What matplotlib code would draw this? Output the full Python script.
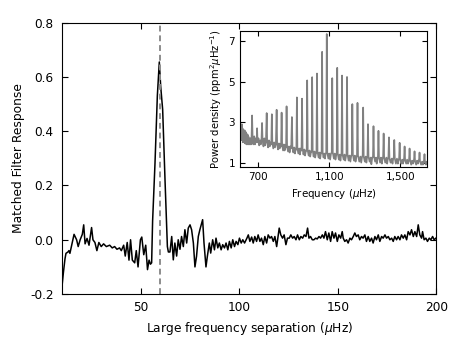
import numpy as np
import matplotlib
matplotlib.use('Agg')
import matplotlib.pyplot as plt
from matplotlib.ticker import FuncFormatter

plt.rcParams['font.family'] = ['DejaVu Sans']
plt.rcParams['mathtext.fontset'] = 'dejavusans'
plt.rcParams['axes.unicode_minus'] = False

# matched filter response vs large frequency separation
dnu = [10.0, 10.7, 11.5, 12.0, 13.0, 13.5, 14.0, 14.9, 16.1, 17.4, 18.2, 19.2, 20.3, 21.0,
       21.7, 22.7, 23.7, 25.0, 25.7, 26.7, 27.7, 28.7, 29.9, 31.1, 32.5, 34.2, 35.5, 36.7,
       37.9, 39.2, 40.1, 41.3, 42.1, 43.1, 44.0, 44.8, 45.7, 46.9, 47.7, 48.6, 49.8, 50.5,
       51.5, 52.5, 53.4, 54.2, 54.9, 55.5, 56.0, 57.2, 58.4, 59.4, 60.1, 61.1, 62.3, 63.5,
       64.0, 64.8, 65.7, 66.5, 67.3, 68.2, 69.0, 69.9, 70.7, 71.6, 72.4, 73.3, 74.1, 75.0,
       75.8, 76.7, 77.5, 78.3, 79.2, 80.0, 80.9, 81.4, 82.1, 83.1, 83.8, 84.8, 85.5, 86.5,
       87.4, 88.2, 89.1, 89.9, 90.8, 91.6, 92.5, 93.3, 94.2, 95.0, 95.9, 96.7, 97.6, 98.4,
       99.3, 100.1, 101.0, 101.8, 102.7, 103.9, 104.6, 105.4, 106.3, 107.1, 107.9, 108.8,
       109.6, 110.5, 111.3, 112.2, 113.0, 113.9, 114.7, 115.6, 116.4, 117.3, 118.1, 119.0,
       119.8, 120.3, 121.1, 122.0, 122.8, 123.7, 124.5, 125.4, 126.2, 127.1, 127.9, 128.8,
       129.6, 130.5, 131.3, 132.2, 133.0, 133.9, 134.7, 135.4, 136.2, 137.1, 137.9, 138.8,
       139.6, 140.5, 141.3, 142.2, 143.0, 143.8, 144.7, 145.5, 146.4, 147.2, 148.1, 148.9,
       149.8, 150.6, 151.5, 152.3, 152.8, 153.6, 154.5, 155.3, 156.2, 157.0, 157.9, 158.7,
       159.5, 160.4, 161.2, 162.1, 162.9, 163.8, 164.6, 165.5, 166.3, 167.2, 168.0, 168.9,
       169.7, 170.6, 171.4, 172.3, 173.1, 174.0, 174.8, 175.7, 176.5, 177.4, 178.2, 179.0,
       179.9, 180.7, 181.6, 182.4, 183.3, 184.1, 185.0, 185.8, 186.7, 187.5, 188.4, 189.2,
       190.1, 190.9, 191.7, 192.6, 193.1, 193.9, 194.8, 195.6, 196.5, 197.3, 198.2, 199.0,
       199.9]
response = [-0.17, -0.12, -0.07, -0.05, -0.045, -0.04, -0.05, -0.02, 0.02, 0.0, -0.025, 0.0,
            0.02, 0.055, -0.015, 0.005, -0.02, 0.045, 0.0, -0.01, -0.04, -0.01, -0.025, -0.015,
            -0.025, -0.02, -0.03, -0.025, -0.035, -0.03, -0.04, -0.02, -0.06, -0.01, -0.075,
            0.0, -0.075, -0.085, -0.04, -0.10, 0.0, 0.01, -0.055, -0.02, -0.11, -0.075, -0.09,
            -0.085, 0.07, 0.28, 0.53, 0.655, 0.565, 0.48, 0.22, -0.025, -0.045, -0.045, 0.012,
            -0.074, -0.012, -0.06, 0.0, -0.035, 0.012, -0.025, 0.037, -0.012, 0.043, 0.055,
            0.037, -0.012, -0.10, -0.061, 0.012, 0.037, 0.061, 0.074, -0.012, -0.10, -0.061,
            -0.012, -0.049, 0.0, -0.037, 0.006, -0.03, -0.012, -0.037, -0.018, -0.03, -0.012,
            -0.037, -0.006, -0.03, 0.0, -0.025, -0.006, -0.018, 0.006, -0.012, 0.0, -0.012,
            0.006, 0.018, -0.006, 0.01, -0.012, 0.012, -0.006, 0.018, -0.006, 0.006, -0.018,
            0.012, -0.012, 0.018, 0.006, 0.012, -0.006, 0.012, -0.025, 0.018, 0.043, 0.018,
            0.006, 0.018, -0.018, 0.006, 0.006, 0.018, 0.006, 0.012, 0.0, 0.018, 0.0, 0.012,
            0.006, 0.018, 0.012, 0.043, 0.006, 0.012, 0.0, 0.0, 0.006, 0.003, 0.012, 0.006,
            0.018, 0.006, 0.03, 0.0, 0.025, -0.006, 0.03, 0.006, 0.025, -0.006, 0.018, 0.006,
            0.03, 0.006, -0.006, 0.0, -0.012, 0.006, 0.0, 0.012, 0.025, 0.012, 0.018, 0.0,
            0.012, 0.006, 0.018, -0.006, 0.012, -0.006, 0.006, -0.012, 0.012, 0.0, 0.018,
            -0.006, 0.012, 0.006, 0.018, 0.006, 0.012, 0.0, 0.006, -0.006, 0.012, 0.0, 0.012,
            0.0, 0.018, 0.006, 0.018, 0.0, 0.03, 0.018, 0.037, 0.012, 0.03, 0.012, 0.055,
            0.018, 0.006, 0.03, 0.0, 0.006, -0.006, 0.006, 0.0, 0.012, 0.0, 0.006]
dnu_max = 59.5

# inset: power spectrum
freq = [600, 602, 604, 606, 608, 610, 612, 614, 616, 618, 620, 622, 624, 626, 628, 630, 632,
        634, 636, 638, 640, 642, 645, 648, 651, 654, 657, 660, 663, 666, 669, 673, 678, 682,
        687, 691, 694, 697, 702, 706, 711, 715, 719, 722, 725, 730, 735, 739, 744, 748, 751,
        756, 761, 765, 770, 774, 777, 780, 785, 790, 795, 800, 804, 807, 812, 817, 821, 826,
        829, 832, 835, 840, 845, 849, 854, 857, 860, 863, 868, 873, 877, 882, 886, 890, 893,
        898, 903, 907, 912, 915, 918, 921, 926, 931, 935, 940, 944, 947, 950, 955, 960, 964,
        969, 973, 976, 979, 984, 989, 993, 998, 1001, 1004, 1007, 1012, 1017, 1021, 1026,
        1028, 1031, 1034, 1040, 1045, 1049, 1054, 1057, 1060, 1063, 1068, 1072, 1076, 1080,
        1083, 1086, 1089, 1095, 1100, 1105, 1110, 1114, 1117, 1120, 1126, 1131, 1135, 1140,
        1142, 1145, 1148, 1154, 1159, 1163, 1167, 1169, 1172, 1175, 1181, 1186, 1190, 1195,
        1197, 1200, 1203, 1209, 1214, 1219, 1224, 1227, 1230, 1233, 1239, 1244, 1248, 1253,
        1256, 1259, 1262, 1269, 1275, 1280, 1285, 1288, 1291, 1294, 1300, 1305, 1309, 1313,
        1315, 1318, 1321, 1327, 1333, 1337, 1342, 1346, 1349, 1352, 1358, 1363, 1367, 1372,
        1374, 1377, 1380, 1386, 1391, 1396, 1400, 1403, 1406, 1409, 1415, 1421, 1426, 1430,
        1433, 1436, 1439, 1445, 1451, 1456, 1460, 1463, 1466, 1469, 1475, 1481, 1486, 1490,
        1493, 1496, 1499, 1505, 1510, 1515, 1519, 1521, 1524, 1527, 1533, 1538, 1543, 1547,
        1549, 1552, 1555, 1561, 1566, 1571, 1575, 1577, 1580, 1583, 1589, 1594, 1599, 1603,
        1605, 1608, 1611, 1617, 1622, 1627, 1631, 1633, 1636, 1639, 1644, 1648, 1652]
power = [2.6, 2.1, 2.8, 2.2, 2.9, 2.1, 2.7, 2.0, 2.6, 2.1, 2.5, 2.0, 2.6, 1.95, 2.4, 2.0, 2.5,
         1.9, 2.3, 2.0, 2.4, 1.9, 2.3, 1.9, 2.2, 1.9, 2.2, 1.9, 2.3, 3.33, 2.2, 1.9, 2.3, 1.9,
         2.2, 2.0, 2.7, 2.0, 2.2, 1.85, 2.1, 1.9, 2.2, 2.96, 2.1, 1.8, 2.2, 1.85, 2.1, 3.45, 2.0,
         1.75, 2.1, 1.8, 2.0, 1.9, 3.39, 2.0, 1.7, 2.0, 1.75, 2.0, 3.61, 1.9, 1.65, 1.95, 1.7,
         1.9, 1.8, 3.47, 1.9, 1.6, 1.9, 1.6, 1.85, 1.75, 3.78, 1.8, 1.55, 1.8, 1.5, 1.8, 1.7,
         3.25, 1.8, 1.5, 1.75, 1.45, 1.7, 1.65, 4.22, 1.7, 1.45, 1.7, 1.4, 1.7, 1.6, 4.16, 1.7,
         1.4, 1.65, 1.35, 1.6, 1.6, 5.06, 1.6, 1.35, 1.6, 1.3, 1.55, 1.55, 5.22, 1.6, 1.3, 1.55,
         1.25, 1.5, 1.5, 5.40, 1.55, 1.25, 1.5, 1.2, 1.5, 1.5, 6.47, 1.5, 1.25, 1.45, 1.2, 1.45,
         1.5, 7.35, 1.5, 1.2, 1.45, 1.15, 1.45, 1.5, 5.17, 1.5, 1.2, 1.45, 1.15, 1.4, 1.45, 5.68,
         1.45, 1.15, 1.4, 1.1, 1.4, 1.4, 5.30, 1.4, 1.15, 1.4, 1.1, 1.35, 1.4, 5.23, 1.4, 1.1,
         1.35, 1.05, 1.35, 1.4, 3.89, 1.4, 1.1, 1.35, 1.05, 1.3, 1.35, 3.95, 1.35, 1.05, 1.3,
         1.0, 1.3, 1.35, 3.72, 1.3, 1.05, 1.3, 1.0, 1.25, 1.3, 2.90, 1.3, 1.05, 1.25, 0.92,
         1.25, 1.3, 2.80, 1.3, 1.05, 1.25, 0.95, 1.25, 1.3, 2.57, 1.25, 1.0, 1.25, 0.95, 1.2,
         1.3, 2.44, 1.25, 1.0, 1.25, 0.95, 1.2, 1.3, 2.25, 1.2, 1.0, 1.2, 0.95, 1.2, 1.25, 2.12,
         1.2, 0.95, 1.2, 0.95, 1.15, 1.2, 1.98, 1.15, 0.95, 1.15, 0.95, 1.15, 1.2, 1.80, 1.1,
         0.95, 1.15, 0.95, 1.1, 1.15, 1.70, 1.1, 0.9, 1.1, 0.95, 1.1, 1.15, 1.56, 1.05, 0.9,
         1.1, 0.95, 1.1, 1.1, 1.50, 1.05, 0.9, 1.05, 0.9, 1.05, 1.1, 1.42, 1.0, 0.9, 1.05, 0.95]

fig = plt.figure(figsize=(4.63, 3.48), dpi=100)
ax = fig.add_axes([0.134, 0.155, 0.808, 0.780])
ax.plot(dnu, response, color='black', lw=1.1)
ax.axvline(dnu_max, color='#8c8c8c', lw=1.4, ls=(0, (3, 2)))
ax.set_xlim(10, 200)
ax.set_ylim(-0.2, 0.8)
ax.set_xticks([50, 100, 150, 200])
ax.set_yticks([-0.2, 0.0, 0.2, 0.4, 0.6, 0.8])
ax.yaxis.set_major_formatter(FuncFormatter(lambda v, p: '%.1f' % v))
ax.tick_params(direction='in', top=True, right=True, length=4, labelsize=8.7)
ax.tick_params(axis='y', pad=6)
ax.tick_params(axis='x', pad=5)
ax.set_xlabel(r'Large frequency separation ($\mu$Hz)', fontsize=8.8)
ax.set_ylabel('Matched Filter Response', fontsize=8.8)

ins = fig.add_axes([0.518, 0.521, 0.405, 0.390])
ins.plot(freq, power, color='#808080', lw=1.2)
ins.set_xlim(597, 1652)
ins.set_ylim(0.8, 7.5)
ins.set_xticks([700, 1100, 1500])
ins.set_yticks([1, 3, 5, 7])
ins.xaxis.set_major_formatter(FuncFormatter(lambda v, p: '{:,.0f}'.format(v)))
ins.tick_params(direction='in', top=True, right=True, length=3.5, labelsize=7.5)
ins.set_xlabel(r'Frequency ($\mu$Hz)', fontsize=7.4)
ins.set_ylabel(r'Power density (ppm$^2\mu$Hz$^{-1}$)', fontsize=7.2, labelpad=3)

fig.savefig('out.png', dpi=100)
